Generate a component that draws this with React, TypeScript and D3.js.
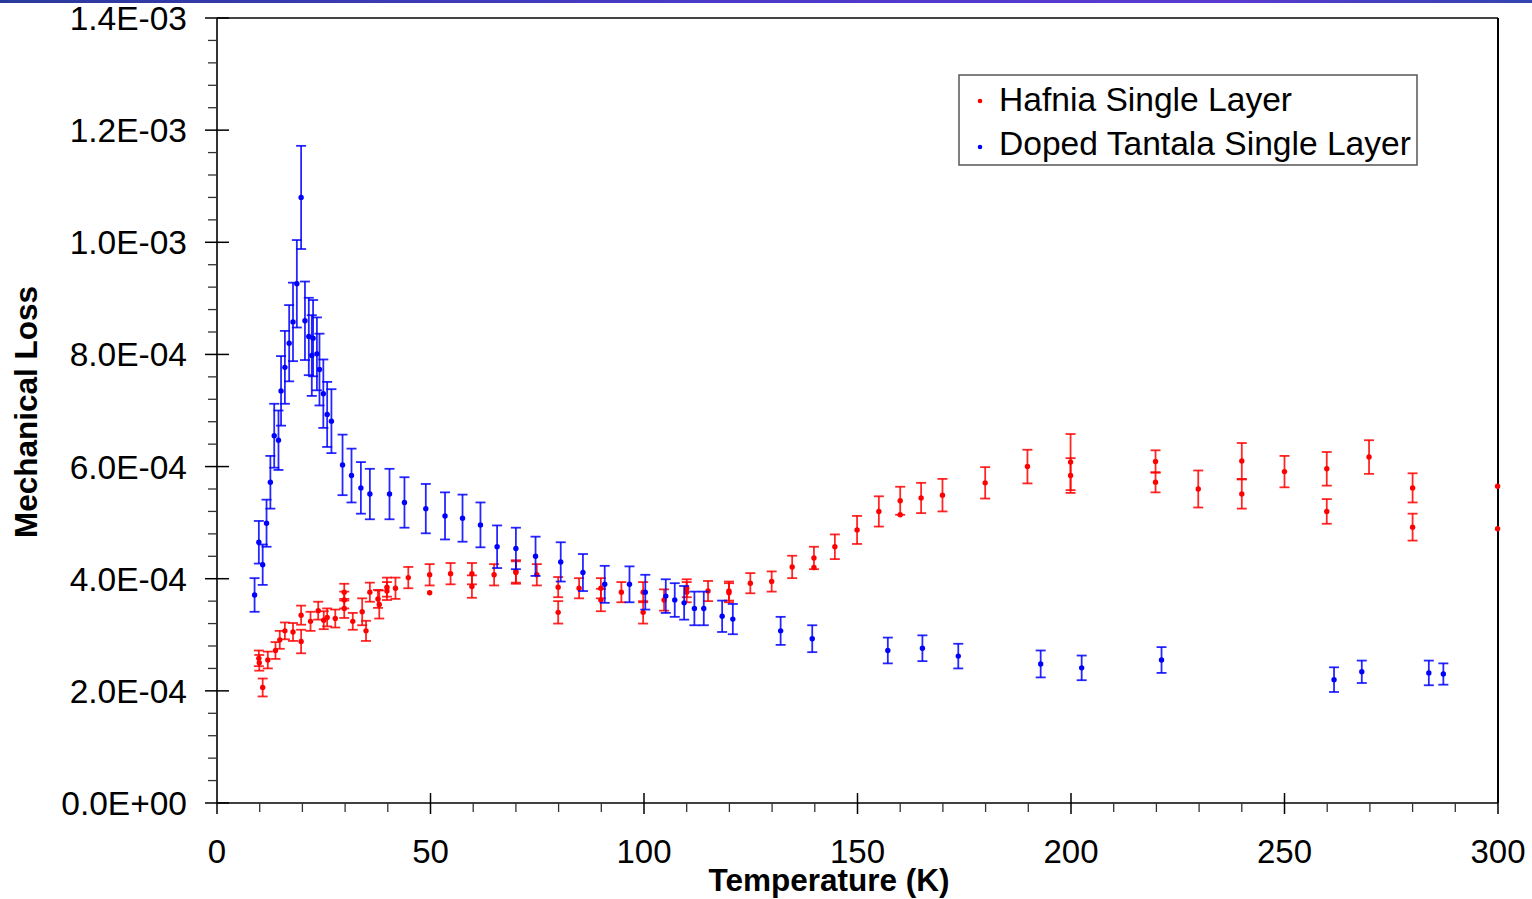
import * as d3 from 'd3'

// Mechanical loss vs temperature, two single-layer coatings.
// Losses are stored in units of 1E-04.

const hafniaTemp = [
  9.8, 9.9, 10.7, 11.9, 13.7, 14.7, 15.9, 17.8, 19.7, 19.7, 21.9, 23.7, 25.0, 25.8, 27.7,
  29.8, 29.8, 29.8, 31.8, 34.0, 34.9, 35.8, 37.7, 38.0, 39.8, 39.8, 41.8, 44.8, 49.8, 49.8,
  54.7, 59.7, 59.7, 64.9, 70.0, 70.0, 74.9, 79.9, 79.9, 84.8, 89.9, 89.9, 94.7, 99.8, 99.8,
  104.7, 110.0, 110.0, 115.0, 119.9, 119.9, 124.9, 129.9, 134.7, 139.8, 139.8, 144.7, 149.9,
  155.0, 160.0, 160.0, 164.9, 169.9, 179.9, 189.8, 199.9, 199.9, 219.8, 219.8, 229.8, 240.0,
  240.0, 250.0, 259.9, 259.9, 269.8, 280.0, 280.0, 299.9, 299.9,
]
const hafniaLoss = [
  2.58, 2.5, 2.06, 2.55, 2.72, 2.91, 3.07, 3.05, 3.35, 2.88, 3.24, 3.43, 3.26, 3.31, 3.29,
  3.76, 3.62, 3.47, 3.24, 3.41, 3.07, 3.76, 3.64, 3.54, 3.85, 3.78, 3.83, 4.02, 4.07, 3.75,
  4.09, 4.09, 3.86, 4.07, 4.13, 4.11, 4.07, 3.85, 3.4, 3.83, 3.83, 3.62, 3.76, 3.76, 3.4,
  3.62, 3.83, 3.76, 3.78, 3.78, 3.75, 3.92, 3.95, 4.21, 4.37, 4.2, 4.57, 4.87,
  5.2, 5.39, 5.14, 5.44, 5.49, 5.71, 6.0, 6.08, 5.84, 6.09, 5.72, 5.6, 6.1,
  5.51, 5.91, 5.96, 5.2, 6.17, 5.62, 4.92, 5.65, 4.89,
]
const hafniaErr = [
  0.14, 0.14, 0.16, 0.15, 0.15, 0.16, 0.15, 0.16, 0.17, 0.21, 0.17, 0.16, 0.16, 0.16, 0.16,
  0.15, 0.15, 0.17, 0.15, 0.24, 0.18, 0.17, 0.16, 0.25, 0.17, 0.16, 0.19, 0.19, 0.19, 0,
  0.19, 0.19, 0.2, 0.19, 0.2, 0.2, 0.19, 0.18, 0.2, 0.18, 0.18, 0.2, 0.18, 0.18, 0.2,
  0.19, 0.16, 0.18, 0.18, 0.17, 0.17, 0.18, 0.18, 0.2, 0.2, 0, 0.22, 0.25,
  0.27, 0.25, 0, 0.27, 0.29, 0.28, 0.3, 0.5, 0.31, 0.2, 0.18, 0.33, 0.32,
  0.26, 0.28, 0.3, 0.22, 0.3, 0.26, 0.24, 0, 0,
]

const tantalaTemp = [
  8.8, 9.8, 10.7, 11.6, 12.5, 13.4, 14.4, 15.0, 15.9, 16.9, 17.8, 18.7, 19.7, 20.6, 21.5,
  22.2, 22.5, 23.4, 24.0, 24.9, 25.8, 26.8, 29.4, 31.5, 33.7, 35.8, 40.4, 43.9, 48.9, 53.4,
  57.5, 61.7, 65.6, 70.0, 74.6, 80.5, 85.7, 90.8, 96.6, 100.3, 105.1, 107.2, 109.4, 111.8,
  114.0, 118.3, 120.8, 132.0, 139.4, 157.1, 165.2, 173.6, 192.9, 202.5, 221.2, 261.6, 268.1,
  283.8, 287.2,
]
const tantalaLoss = [
  3.71, 4.65, 4.25, 4.99, 5.72, 6.55, 6.47, 7.35, 7.77, 8.2, 8.58, 9.26, 10.8, 8.6, 8.32,
  7.98, 8.29, 8.01, 7.73, 7.3, 6.93, 6.81, 6.03, 5.84, 5.62, 5.51, 5.51, 5.36, 5.25, 5.12,
  5.08, 4.96, 4.57, 4.54, 4.4, 4.3, 4.11, 3.9, 3.9, 3.76, 3.69, 3.62, 3.57, 3.47,
  3.47, 3.33, 3.28, 3.07, 2.93, 2.72, 2.76, 2.62, 2.48, 2.41, 2.55, 2.2, 2.34,
  2.32, 2.3,
]
const tantalaErr = [
  0.3, 0.38, 0.36, 0.42, 0.47, 0.57, 0.53, 0.62, 0.65, 0.68, 0.7, 0.78, 0.92, 0.7, 0.69,
  0.72, 0.68, 0.65, 0.64, 0.61, 0.58, 0.57, 0.54, 0.48, 0.46, 0.45, 0.45, 0.45, 0.44, 0.42,
  0.42, 0.4, 0.38, 0.37, 0.35, 0.35, 0.33, 0.33, 0.32, 0.31, 0.3, 0.3, 0.3, 0.3,
  0.3, 0.28, 0.27, 0.25, 0.24, 0.23, 0.23, 0.22, 0.24, 0.22, 0.23, 0.22, 0.2,
  0.22, 0.19,
]

const xTicks = [0, 50, 100, 150, 200, 250, 300]
const yTicks = [0, 2, 4, 6, 8, 10, 12, 14]
const yTickLabels = ['0.0E+00', '2.0E-04', '4.0E-04', '6.0E-04', '8.0E-04', '1.0E-03', '1.2E-03', '1.4E-03']

const seriesNames = ['Hafnia Single Layer', 'Doped Tantala Single Layer']
const seriesColors = ['#ff0000', '#0000ff']

const W = 1532
const H = 899
const left = 217
const right = 1498
const top = 18
const bottom = 803
const font = '"Liberation Sans", Arial, sans-serif'

export default function App() {
  const x = d3.scaleLinear().domain([0, 300]).range([left, right])
  const y = d3.scaleLinear().domain([0, 14]).range([bottom, top])

  const series = [
    { t: hafniaTemp, v: hafniaLoss, e: hafniaErr },
    { t: tantalaTemp, v: tantalaLoss, e: tantalaErr },
  ]

  const xMinor = d3.range(0, 301, 10).filter(d => d % 50 !== 0)
  const yMinor = d3.range(0, 14.01, 0.4).filter(d => Math.abs(d / 2 - Math.round(d / 2)) > 1e-6)

  return (
    <svg
      width={W}
      height={H}
      style={{ position: 'absolute', left: 0, top: 0, background: '#fff' }}
      fontFamily={font}
    >
      <defs>
        <linearGradient id="topbar" x1="0" x2="1" y1="0" y2="0">
          <stop offset="0" stopColor="#2a3a9c" />
          <stop offset="0.45" stopColor="#4a3ac8" />
          <stop offset="0.8" stopColor="#5a3ad0" />
          <stop offset="1" stopColor="#3344b0" />
        </linearGradient>
      </defs>
      <rect x={0} y={0} width={W} height={3} fill="url(#topbar)" />

      {/* frame */}
      <line x1={left} x2={right} y1={top} y2={top} stroke="#444" strokeWidth={2} />
      <line x1={right} x2={right} y1={top} y2={bottom} stroke="#000" strokeWidth={2} />

      {/* y axis */}
      <line x1={left} x2={left} y1={top} y2={bottom} stroke="#000" strokeWidth={1.6} />
      {yMinor.map(d => (
        <line key={'ym' + d} x1={left - 9} x2={left} y1={y(d)} y2={y(d)} stroke="#333" strokeWidth={1.3} />
      ))}
      {yTicks.map((d, i) => (
        <g key={'y' + d}>
          <line x1={left - 12} x2={left + 12} y1={y(d)} y2={y(d)} stroke="#000" strokeWidth={1.5} />
          <text x={187} y={y(d) + 12} textAnchor="end" fontSize={33.5} fill="#000">
            {yTickLabels[i]}
          </text>
        </g>
      ))}

      {/* x axis */}
      <line x1={left} x2={right} y1={bottom} y2={bottom} stroke="#000" strokeWidth={1.6} />
      {xMinor.map(d => (
        <line key={'xm' + d} x1={x(d)} x2={x(d)} y1={bottom} y2={bottom + 9} stroke="#333" strokeWidth={1.3} />
      ))}
      {xTicks.map(d => (
        <g key={'x' + d}>
          <line x1={x(d)} x2={x(d)} y1={d === 0 ? bottom : bottom - 10} y2={bottom + 11} stroke="#000" strokeWidth={1.5} />
          <text x={x(d)} y={863} textAnchor="middle" fontSize={33} fill="#000">
            {d}
          </text>
        </g>
      ))}

      {/* error bars and points */}
      {series.map((s, si) => (
        <g key={'s' + si} stroke={seriesColors[si]} fill={seriesColors[si]}>
          {s.t.map((t, i) =>
            s.e[i] > 0 ? (
              <g key={'e' + i} strokeWidth={1.8} strokeOpacity={0.85}>
                <line x1={x(t)} x2={x(t)} y1={y(s.v[i] - s.e[i])} y2={y(s.v[i] + s.e[i])} />
                <line x1={x(t) - 5} x2={x(t) + 5} y1={y(s.v[i] - s.e[i])} y2={y(s.v[i] - s.e[i])} />
                <line x1={x(t) - 5} x2={x(t) + 5} y1={y(s.v[i] + s.e[i])} y2={y(s.v[i] + s.e[i])} />
              </g>
            ) : null
          )}
          {s.t.map((t, i) => (
            <circle key={'p' + i} cx={x(t)} cy={y(s.v[i])} r={2.7} stroke="none" />
          ))}
        </g>
      ))}

      {/* axis titles */}
      <text x={829} y={891} textAnchor="middle" fontSize={31.5} fontWeight="bold" fill="#000">
        Temperature (K)
      </text>
      <text
        transform={`translate(37, 412) rotate(-90)`}
        textAnchor="middle"
        fontSize={31.5}
        fontWeight="bold"
        fill="#000"
      >
        Mechanical Loss
      </text>

      {/* legend */}
      <rect x={959} y={75} width={458} height={90} fill="#fff" stroke="#555" strokeWidth={1.5} />
      {seriesNames.map((name, i) => (
        <g key={name}>
          <circle cx={980} cy={101 + i * 46} r={2.3} fill={seriesColors[i]} />
          <text x={999} y={111 + i * 44} fontSize={33.6} fill="#000">
            {name}
          </text>
        </g>
      ))}
    </svg>
  )
}
